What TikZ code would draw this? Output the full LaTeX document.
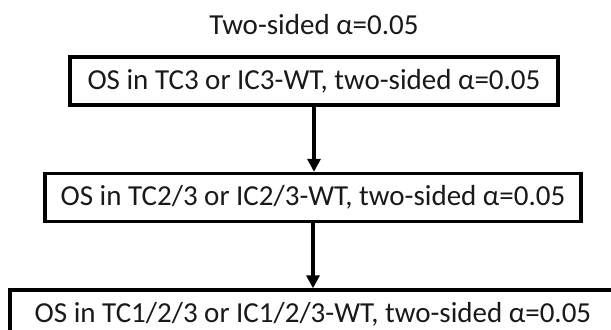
\documentclass[tikz,border=0pt]{standalone}
\usepackage{fontspec}
\setmainfont{Carlito}
\usetikzlibrary{arrows.meta}

\begin{document}
\begin{tikzpicture}[x = 0.5pt, y = -0.5pt,
		txt/.style = {font = \fontsize{14.5}{17}\selectfont, text = black!90},
		box/.style = {txt, draw, line width = 1.7pt, inner sep = 0pt, minimum height = 24pt},
		flow/.style = {line width = 1.6pt, -{Triangle[width = 6.5pt, length = 6.5pt]}}]
		\clip (0, 0) rectangle (611, 330);
		\node[txt] (title) at (314, 25) {Two-sided α=0.05};
		%%%%%%%%%
		\node[box, minimum width = 244pt] (tc3) at (314, 81) {OS in TC3 or IC3-WT, two-sided α=0.05};
		\node[box, minimum width = 268pt] (tc23) at (313, 197.5) {OS in TC2/3 or IC2/3-WT, two-sided α=0.05};
		\node[box, minimum width = 303pt] (tc123) at (313, 314) {OS in TC1/2/3 or IC1/2/3-WT, two-sided α=0.05};
		%%%%%%%%%
		\draw[flow] (tc3.south) -- (tc3.south |- tc23.north);
		\draw[flow] (tc23.south) -- (tc23.south |- tc123.north);
\end{tikzpicture}
\end{document}
